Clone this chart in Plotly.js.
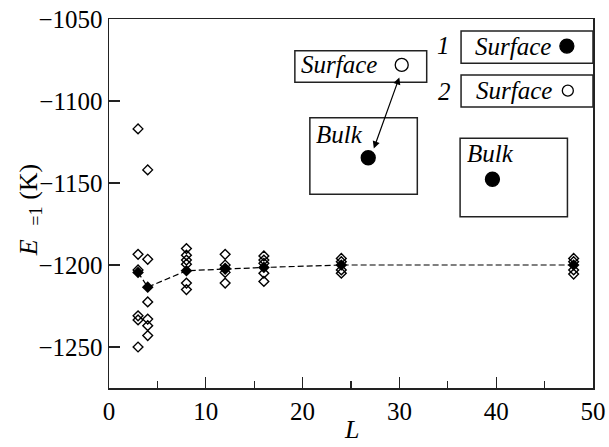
<!DOCTYPE html>
<html>
<head>
<meta charset="utf-8">
<script src="https://cdn.plot.ly/plotly-3.0.1.min.js"></script>
<style>html,body{margin:0;padding:0;background:#fff;}#chart{width:609px;height:447px;}</style>
</head>
<body>
<div id="chart"></div>
<script>
// Averages (filled diamonds, dashed line)
const avgL = [3, 4, 8, 12, 16, 24, 48];
const avgE = [-1204.5, -1213.5, -1203.5, -1202.5, -1201.5, -1200, -1200];

// Individual runs (open diamonds)
const runL = [3, 3, 3, 3, 3, 3,
              4, 4, 4, 4, 4, 4,
              8, 8, 8, 8, 8, 8,
              12, 12, 12, 12, 12,
              16, 16, 16, 16, 16,
              24, 24, 24, 24,
              48, 48, 48, 48];
const runE = [-1117, -1193.5, -1203, -1231, -1233.5, -1250,
              -1142, -1196.5, -1222.5, -1233, -1237, -1243,
              -1190, -1194, -1197, -1199.5, -1211, -1215,
              -1193.5, -1200, -1202, -1204.5, -1211,
              -1194.5, -1197, -1199, -1205, -1210,
              -1196, -1198, -1203, -1205,
              -1196, -1198, -1203, -1205.5];

const xTicks = [0, 10, 20, 30, 40, 50];
const yTicks = [-1250, -1200, -1150, -1100, -1050];

const serif = 'Liberation Serif';

const traces = [
  {
    x: runL, y: runE, type: 'scatter', mode: 'markers',
    marker: {symbol: 'diamond-open', size: 7.5, color: 'black', line: {width: 1.4, color: 'black'}},
    showlegend: false, hoverinfo: 'skip'
  },
  {
    x: avgL, y: avgE, type: 'scatter', mode: 'lines+markers',
    line: {color: 'black', width: 1.2, dash: '6px,3px'},
    marker: {symbol: 'diamond', size: 9, color: 'black'},
    showlegend: false, hoverinfo: 'skip'
  }
];

function rect(x0, x1, y0, y1) {
  return {type: 'rect', xref: 'x', yref: 'y', x0: x0, x1: x1, y0: y0, y1: y1,
          line: {color: '#222', width: 1.5}, fillcolor: 'rgba(0,0,0,0)'};
}
function dot(x, y, r, filled) {
  return {type: 'circle', xref: 'x', yref: 'y', xsizemode: 'pixel', ysizemode: 'pixel',
          xanchor: x, yanchor: y, x0: -r, x1: r, y0: -r, y1: r,
          fillcolor: filled ? 'black' : 'white', line: {color: 'black', width: 1.3}};
}
function txt(x, y, s, anchor) {
  return {xref: 'x', yref: 'y', x: x, y: y, text: s, showarrow: false,
          xanchor: anchor || 'left', yanchor: 'middle',
          font: {family: serif, size: 25, color: 'black'}};
}

const layout = {
  width: 609, height: 447,
  margin: {l: 109, r: 16, t: 19, b: 59},
  paper_bgcolor: 'white', plot_bgcolor: 'white',
  font: {family: serif, size: 25, color: 'black'},
  xaxis: {
    range: [0, 50], tickvals: xTicks, ticks: 'inside', ticklen: 11, tickwidth: 1.3, tickcolor: '#222',
    minor: {dtick: 5, ticks: 'inside', ticklen: 7, tickwidth: 1.3, tickcolor: '#222'},
    showline: true, linecolor: '#222', linewidth: 1.5, mirror: true,
    showgrid: false, zeroline: false, tickfont: {family: serif, size: 25, color: 'black'}
  },
  yaxis: {
    range: [-1275, -1050], tickvals: yTicks, ticks: 'inside', ticklen: 11, tickwidth: 1.3, tickcolor: '#222',
    showline: true, linecolor: '#222', linewidth: 1.5, mirror: true,
    showgrid: false, zeroline: false, tickfont: {family: serif, size: 25, color: 'black'}
  },
  shapes: [
    rect(19.2, 32.82, -1069.3, -1088.6),
    rect(20.75, 31.85, -1110.2, -1156.9),
    rect(36.37, 50, -1057.3, -1077.0),
    rect(36.37, 50, -1084.1, -1103.7),
    rect(36.27, 47.36, -1122.7, -1170.6),
    dot(30.24, -1078, 6.5, false),
    dot(26.78, -1134.6, 7, true),
    dot(47.3, -1066.5, 7, true),
    dot(47.4, -1093.7, 5.5, false),
    dot(39.61, -1147.7, 7, true)
  ],
  annotations: [
    txt(19.6, -1078, '<i>Surface</i>'),
    txt(21.2, -1120.7, '<i>Bulk</i>'),
    txt(34.54, -1065.9, '<i>1</i>', 'center'),
    txt(37.6, -1066.5, '<i>Surface</i>'),
    txt(34.64, -1093.9, '<i>2</i>', 'center'),
    txt(37.7, -1093.7, '<i>Surface</i>'),
    txt(36.75, -1132.3, '<i>Bulk</i>'),
    {xref: 'x', yref: 'y', axref: 'x', ayref: 'y', x: 29.99, y: -1085.6, ax: 27.3, ay: -1129.9,
     text: '', showarrow: true, arrowside: 'end+start', arrowhead: 2, startarrowhead: 2,
     arrowsize: 1.2, startarrowsize: 1.2, arrowwidth: 1.2, arrowcolor: 'black'},
    {xref: 'paper', yref: 'paper', x: -0.163, y: 0.482, textangle: -90, showarrow: false,
     xanchor: 'center', yanchor: 'middle', text: '<i>E</i><sub>   =1</sub> (K)',
     font: {family: serif, size: 26, color: 'black'}},
    {xref: 'paper', yref: 'paper', x: 0.5, y: -0.158, showarrow: false,
     xanchor: 'center', yanchor: 'bottom', text: '<i>L</i>',
     font: {family: serif, size: 26, color: 'black'}}
  ]
};

Plotly.newPlot('chart', traces, layout, {staticPlot: true, displayModeBar: false});
</script>
</body>
</html>
